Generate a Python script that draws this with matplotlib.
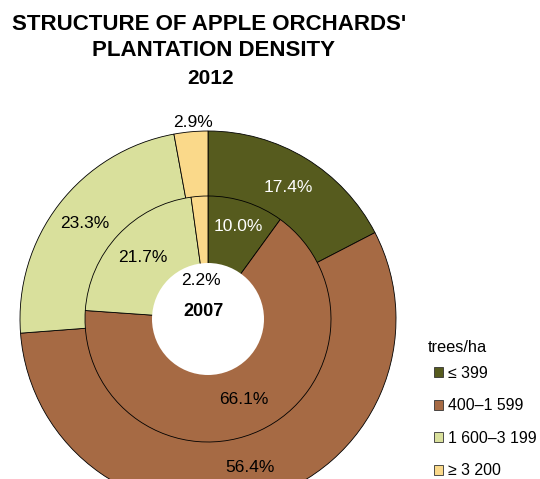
import matplotlib
matplotlib.use("Agg")
import matplotlib.pyplot as plt
import numpy as np
from matplotlib.patches import Patch, Circle

plt.rcParams['font.family'] = ['Liberation Sans', 'DejaVu Sans']

categories = ['≤ 399', '400–1 599', '1 600–3 199', '≥ 3 200']
values_2012 = [17.4, 56.4, 23.3, 2.9]
values_2007 = [10.0, 66.1, 21.7, 2.2]
colors = ['#565B1E', '#A66A44', '#D9E09C', '#FAD98A']
label_colors = ['white', 'black', 'black', 'black']

W, H = 540, 479
fig = plt.figure(figsize=(W / 100, H / 100), dpi=100)
ax = fig.add_axes([0, 0, 1, 1])

cx, cy = 208, H - 319
R_out, R_in, R_hole = 188, 123, 56

wp = dict(edgecolor='black', linewidth=0.6)
ax.pie(values_2012, colors=colors, startangle=90, counterclock=False,
       center=(cx, cy), radius=R_out, wedgeprops=wp, frame=True)
ax.pie(values_2007, colors=colors, startangle=90, counterclock=False,
       center=(cx, cy), radius=R_in, wedgeprops=wp, frame=True)
ax.add_patch(Circle((cx, cy), R_hole, facecolor='white', edgecolor='none', zorder=5))
ax.set_xlim(0, W)
ax.set_ylim(0, H)
ax.set_aspect('equal')
ax.axis('off')

def place_labels(vals, radius, dists, angle_offsets):
    start = 90.0
    cum = 0.0
    for v, d, off, c in zip(vals, dists, angle_offsets, label_colors):
        mid = start - (cum + v / 2) * 3.6 + off
        cum += v
        x = cx + radius * d * np.cos(np.radians(mid))
        y = cy + radius * d * np.sin(np.radians(mid))
        ax.text(x, y, f'{v:.1f}%', ha='center', va='center', fontsize=12.5,
                color=c, zorder=10)

place_labels(values_2012, R_out, [0.82, 0.82, 0.83, 1.05], [0, 0, 0, -0.8])
place_labels(values_2007, R_in, [0.79, 0.72, 0.73, 0.32], [0, -1, 0, 7])

ax.text(cx - 4, cy + 7, '2007', ha='center', va='center', fontsize=13,
        fontweight='bold', zorder=10)

fig.text(209 / W, 1 - 25 / H, "STRUCTURE OF APPLE ORCHARDS'", ha='center', va='center',
         fontsize=16, fontweight='bold')
fig.text(214 / W, 1 - 51 / H, "PLANTATION DENSITY", ha='center', va='center',
         fontsize=16, fontweight='bold')
fig.text(211 / W, 1 - 79 / H, "2012", ha='center', va='center',
         fontsize=15, fontweight='bold')

fig.text(428 / W, 1 - 347 / H, 'trees/ha', ha='left', va='center', fontsize=11.8)
handles = [Patch(facecolor=c, edgecolor='#333333', linewidth=0.6) for c in colors]
leg = ax.legend(handles, categories, loc='upper left',
                bbox_to_anchor=(434 / W, 1 - 366 / H), frameon=False,
                fontsize=11.4, handlelength=0.58,
                handleheight=0.58, handletextpad=0.3, labelspacing=1.1,
                borderpad=0, borderaxespad=0)

fig.savefig('out.png', dpi=100)
